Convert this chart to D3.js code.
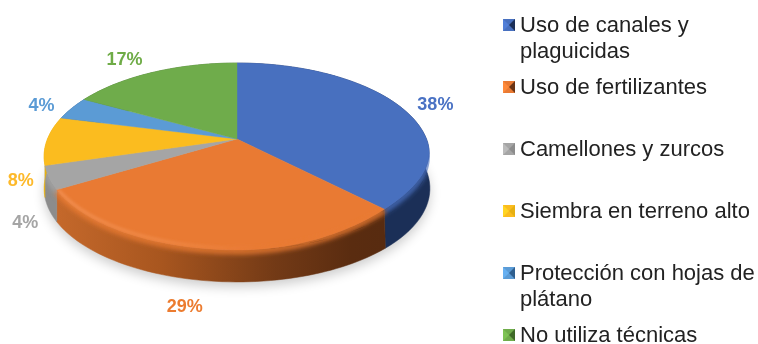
<!DOCTYPE html>
<html><head><meta charset="utf-8">
<script src="https://cdn.jsdelivr.net/npm/d3@7"></script>
<style>html,body{margin:0;padding:0;background:#fff;overflow:hidden}svg{display:block;filter:blur(.45px)}text{font-family:"Liberation Sans",Arial,sans-serif}</style>
</head><body><svg id="c" width="758" height="344"></svg>
<script>
const categories=["Uso de canales y plaguicidas","Uso de fertilizantes","Camellones y zurcos","Siembra en terreno alto","Protección con hojas de plátano","No utiliza técnicas"];
const legendLines=[["Uso de canales y","plaguicidas"],["Uso de fertilizantes"],["Camellones y zurcos"],["Siembra en terreno alto"],["Protección con hojas de","plátano"],["No utiliza técnicas"]];
const values=[37.5,29,4,8.4,4,17.1];
const colors=["#4870bf","#e97a33","#a5a5a5","#fbbc1f","#5b9bd5","#6fac4b"];
const sideColors=["#1b2f57","#6b3414","#8c8c8c","#e6b012","#2f5f8f","#3f6a28"];
const labelColors=["#4a72c4","#ec7c30","#a5a5a5","#fdb92a","#5b9bd5","#6fac47"];

const W=758,H=344,cx=237,cy=139,R=189.5,Ry=90.2,k=0.187,depth=32;
const svg=d3.select("#c"),defs=svg.append("defs");
const PI=Math.PI;
const proj=(a,f=1)=>{const u=Math.sin(a)*f,v=-Math.cos(a)*f,d=1-k*v;return [cx+R*u/d,cy+Ry*v/d];};
const inLR=a=>a>PI/2&&a<PI;
const s2=a=>Math.pow(Math.sin(2*(a-PI/2)),2);
const shrink=a=>inLR(a)?1-.04*s2(a):1;      // the flat top sits inside the bevel on the shaded lower right
const warp=a=>inLR(a)?a+.045*s2(a):a;       // keeps the seam between side faces vertical there
const arcs=d3.pie().sort(null).value(d=>d)(values);
const line=d3.line();
const rim=(a0,a1)=>d3.range(0,61).map(i=>proj(a0+(a1-a0)*i/60));
const flatRim=(a0,a1)=>d3.range(0,61).map(i=>{const a=a0+(a1-a0)*i/60;return proj(a,shrink(a));});
const lowRim=(a0,a1)=>d3.range(0,61).map(i=>{const p=proj(warp(a0+(a1-a0)*i/60));return [p[0],p[1]+depth];});

const blur=(id,s)=>defs.append("filter").attr("id",id).attr("x","-20%").attr("y","-20%").attr("width","140%").attr("height","140%").append("feGaussianBlur").attr("stdDeviation",s);
blur("sh",6);blur("bev",2.6);blur("gl",1.5);
const grad=(id,stops)=>{const g=defs.append("linearGradient").attr("id",id).attr("gradientUnits","userSpaceOnUse").attr("x1",cx-R).attr("x2",cx+R).attr("y1",0).attr("y2",0);stops.forEach(s=>g.append("stop").attr("offset",s[0]).attr("stop-color",s[1]));};
grad("sideO",[[0,"#c76a2c"],[.3,"#a8561f"],[.6,"#733a16"],[.8,"#5a2c10"],[1,"#552a10"]]);
grad("hl",[[0,"#f39255"],[.3,"#f08a48"],[.55,"#e97a33"],[1,"#e97a33"]]);
const clip=defs.append("clipPath").attr("id","sil");
clip.append("path").attr("d",line(rim(0,2*PI))+"Z");
clip.append("path").attr("d",line(rim(PI/2-.02,3*PI/2+.02).concat(lowRim(PI/2-.02,3*PI/2+.02).reverse()))+"Z");

// ground shadow
svg.append("path").attr("d",line(rim(0,2*PI).map(p=>[p[0],p[1]+depth+5]))+"Z").attr("fill","#000").attr("opacity",.2).attr("filter","url(#sh)");

// side faces
svg.append("g").selectAll("path").data(arcs).join("path")
 .attr("d",d=>line(flatRim(d.startAngle,d.endAngle).concat(lowRim(d.startAngle,d.endAngle).reverse()))+"Z")
 .attr("fill",(d,i)=>i===1?"url(#sideO)":sideColors[i]).attr("stroke",(d,i)=>i===1?"url(#sideO)":sideColors[i]).attr("stroke-width",.5);

// bevel
svg.append("g").attr("clip-path","url(#sil)").selectAll("path").data(arcs).join("path")
 .attr("d",d=>line(flatRim(d.startAngle,d.endAngle).map(p=>[p[0],p[1]+1.5])))
 .attr("fill","none").attr("stroke",(d,i)=>colors[i]).attr("stroke-width",5).attr("filter","url(#bev)");

// top faces
svg.append("g").selectAll("path").data(arcs).join("path")
 .attr("d",d=>line([[cx,cy]].concat(flatRim(d.startAngle,d.endAngle)))+"Z")
 .attr("fill",(d,i)=>colors[i]).attr("stroke",(d,i)=>colors[i]).attr("stroke-width",.4);

// highlight along the front rim of the orange slice
svg.append("path").datum(arcs[1]).attr("d",d=>line(flatRim(d.startAngle+.03,d.endAngle-.02).map(p=>[p[0],p[1]-2])))
 .attr("fill","none").attr("stroke","url(#hl)").attr("stroke-width",2.5).attr("filter","url(#gl)");

// data labels
const nudges=[[35,-3],[-23,57],[-24,44],[-26,39],[-30,-4],[-29,-14]];
svg.append("g").selectAll("text").data(arcs).join("text")
 .attr("x",(d,i)=>proj((d.startAngle+d.endAngle)/2)[0]+nudges[i][0])
 .attr("y",(d,i)=>proj((d.startAngle+d.endAngle)/2)[1]+nudges[i][1]+6.5)
 .attr("text-anchor","middle").attr("font-size",18).attr("font-weight",700)
 .attr("fill",(d,i)=>labelColors[i]).text(d=>d3.format(".0f")(d.value)+"%");

// legend
const ly=d3.scalePoint().domain(categories).range([25,335]);
const ms=12,mx=503,tx=520;
const leg=svg.append("g").selectAll("g").data(categories).join("g").attr("transform",d=>`translate(${mx},${ly(d)})`);
leg.append("rect").attr("x",0).attr("y",-ms/2).attr("width",ms).attr("height",ms).attr("fill",(d,i)=>colors[i]);
leg.append("path").attr("d",d3.line()([[ms,-ms/2],[ms,ms/2],[ms/2,0]])+"Z").attr("fill",(d,i)=>sideColors[i]);
leg.append("path").attr("d",d3.line()([[0,-ms/2],[0,ms/2],[ms/2,0]])+"Z").attr("fill",(d,i)=>d3.color(colors[i]).brighter(.35));
leg.append("text").attr("x",tx-mx).attr("y",7).attr("font-size",22).attr("fill","#222")
 .each(function(d,i){d3.select(this).selectAll("tspan").data(legendLines[i]).join("tspan").attr("x",tx-mx).attr("dy",(l,j)=>j?26:0).text(l=>l);});
</script></body></html>
